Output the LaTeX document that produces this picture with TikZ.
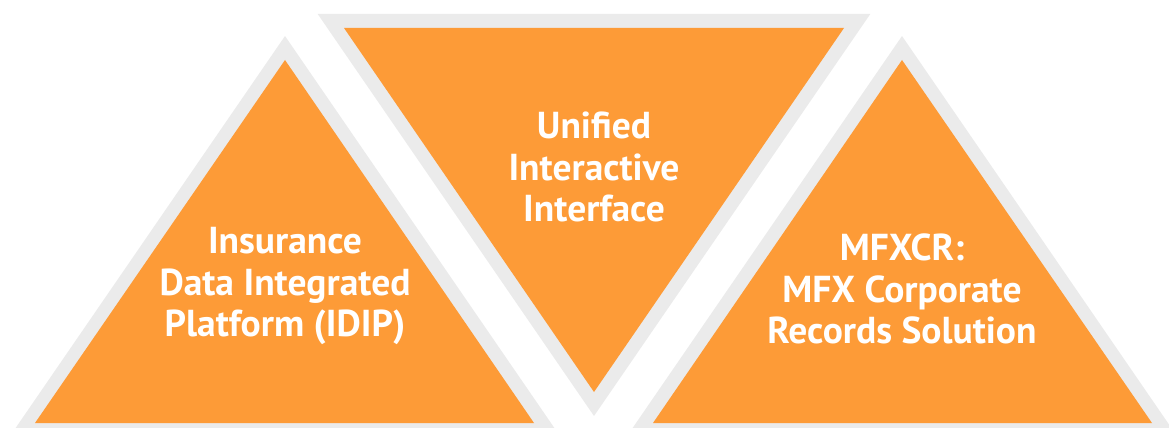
\documentclass[tikz,border=0pt]{standalone}
\usepackage{fontspec}
\setmainfont{PT Sans}
\definecolor{tri}{HTML}{FD9B37}
\definecolor{rim}{HTML}{EBEBEB}
\begin{document}
\begin{tikzpicture}[x=1pt,y=-1pt,
  rimshape/.style={fill=rim,draw=none},
  fillshape/.style={fill=tri,draw=none},
  label/.style={text=white,font=\bfseries\fontsize{37.5}{41.5}\selectfont,align=center,inner sep=0pt}]
\useasboundingbox (0,0) rectangle (1169,428);
\begin{scope}
\clip (0,0) rectangle (1169,428);
% left triangle, pointing up
\fill[rimshape] (285,36) -- (9.4,437) -- (560.6,437) -- cycle;
\fill[fillshape] (285,60) -- (35,423) -- (534,423) -- cycle;
% middle triangle, pointing down
\fill[rimshape] (317.7,14) -- (870.3,14) -- (594,416) -- cycle;
\fill[fillshape] (344,28) -- (844,28) -- (594,392) -- cycle;
% right triangle, pointing up
\fill[rimshape] (902,36) -- (626.4,437) -- (1177.6,437) -- cycle;
\fill[fillshape] (902,60) -- (653,423) -- (1152,423) -- cycle;
\end{scope}
\node[label] (idip) at (285,286) {Insurance\\Data Integrated\\Platform (IDIP)};
\node[label] (uii) at (594,167) {Unified\\Interactive\\Interface};
\node[label] (mfx) at (902,289) {MFXCR:\\MFX Corporate\\Records Solution};
\end{tikzpicture}
\end{document}
